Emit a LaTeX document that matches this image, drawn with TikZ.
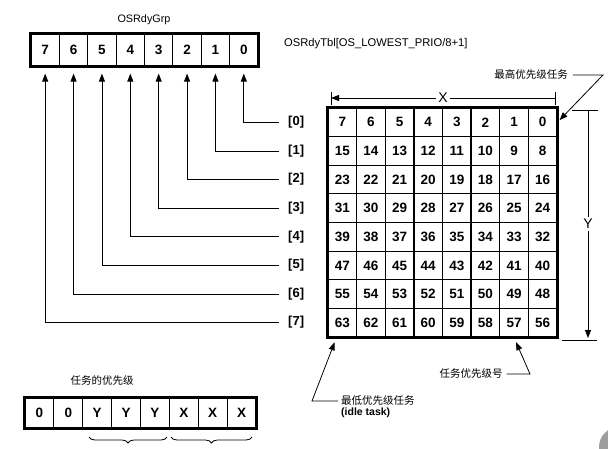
\documentclass[tikz,border=0pt]{standalone}
\usepackage{fontspec}
\setmainfont{Liberation Sans}
\newfontfamily\cjk{Noto Sans CJK SC}
\usetikzlibrary{arrows.meta,decorations.pathreplacing,calc}
\begin{document}
\begin{tikzpicture}[x=1pt,y=-1pt,
  num/.style={font=\fontsize{13.5}{14}\selectfont\bfseries, inner sep=0pt},
  cell/.style={num, draw, line width=1.2pt, minimum width=28.4pt, minimum height=28.6pt},
  rcell/.style={num, draw, line width=1.2pt, minimum width=28.375pt, minimum height=32pt},
  bcell/.style={num, draw, line width=1.2pt, minimum width=28.875pt, minimum height=30pt},
  lbl/.style={font=\fontsize{10.8}{12}\selectfont, inner sep=1pt},
  cjklbl/.style={font=\fontsize{10.5}{12}\selectfont\cjk, inner sep=1pt, align=left},
  thickbox/.style={line width=3.6pt},
  conn/.style={line width=0.8pt},
  tip/.style={-{Triangle[length=8pt,width=6pt]}},
]
\useasboundingbox (0,0) rectangle (608,448);

% ---------- OSRdyGrp register ----------
\node[lbl] (grplbl) at (144,20) {OSRdyGrp};
\foreach \b in {0,...,7}
  \node[rcell] (g\b) at ({31+28.375*(7-\b)+14.19}, 50) {\b};
\draw[thickbox] (g7.north west) rectangle (g0.south east);

\node[lbl, anchor=west, font=\fontsize{11.2}{12}\selectfont] (tbllbl) at (283,44) {OSRdyTbl[OS\_LOWEST\_PRIO/8+1]};

% ---------- row labels and connectors ----------
\foreach \b in {0,...,7} {
  \node[num, anchor=west, font=\fontsize{13}{14}\selectfont\bfseries] (r\b) at (288, {122.3+28.6*\b}) {[\b]};
  \draw[conn, tip, shorten <=9pt, shorten >=7pt] (r\b.west) -| (g\b.south);
}

% ---------- OSRdyTbl grid ----------
\foreach \row in {0,...,7}
  \foreach \col in {0,...,7} {
    \pgfmathtruncatemacro{\n}{8*\row+7-\col}
    \node[cell] (c\n) at ({328+28.625*\col+14.31}, {108+28.625*\row+14.31}) {\n};
  }
\draw[thickbox] (c7.north west) rectangle (c56.south east);

% ---------- X dimension ----------
\coordinate (xl) at (331,98);
\coordinate (xr) at (555,98);
\draw[conn] (331,92) -- (331,105);
\draw[conn] (555,92) -- (555,105);
\draw[conn, -{Triangle[length=8pt,width=6pt]}] (xr) -- (xl)
  node[pos=0.5, fill=white, inner sep=2pt, font=\fontsize{14}{14}\selectfont] (xlab) {X};

% ---------- Y dimension ----------
\coordinate (yt) at (588,110);
\coordinate (yb) at (588,338);
\draw[conn] (572,110) -- (598,110);
\draw[conn] (562,340) -- (597,340);
\draw[conn, tip] (yt) -- (yb)
  node[pos=0.5, fill=white, inner sep=2pt, font=\fontsize{14}{14}\selectfont] (ylab) {Y};

% ---------- callouts ----------
\node[cjklbl] (hi) at (531,75) {最高优先级任务};
\coordinate (hik) at (603,75);
\draw[conn, tip, shorten <=4pt, shorten >=3pt] (hi.east) -- (hik) -- (c0.east);

\node[cjklbl] (prio) at (471,374) {任务优先级号};
\coordinate (priok) at (530,374);
\draw[conn, tip, shorten <=3pt, shorten >=5pt] (prio.east) -- (priok) -- (c57.south);

\node[cjklbl, anchor=north west] (low) at (340,394) {最低优先级任务\\[-1pt]{\rmfamily\bfseries\fontsize{10.5}{11}\selectfont (idle task)}};
\coordinate (lowk) at (312,401);
\coordinate (lowt) at ($(c63.south west)!0.3!(c63.south east)$);
\draw[conn, tip, shorten >=5pt] ([yshift=-7pt,xshift=-2pt]low.north west) -- (lowk) -- (lowt);

% ---------- priority byte ----------
\node[cjklbl] (plbl) at (102,381) {任务的优先级};
\foreach \t [count=\i from 0] in {0,0,Y,Y,Y,X,X,X}
  \node[bcell] (p\i) at ({25+28.875*\i+14.44}, 413) {\t};
\draw[thickbox] (p0.north west) rectangle (p7.south east);
\draw[conn, decorate, decoration={brace, mirror, amplitude=6pt}] (89,437) -- (167,437);
\draw[conn, decorate, decoration={brace, mirror, amplitude=6pt}] (171,437) -- (252,437);

% corner mark
\fill[black!38] (619,447) circle (20);
\end{tikzpicture}
\end{document}
